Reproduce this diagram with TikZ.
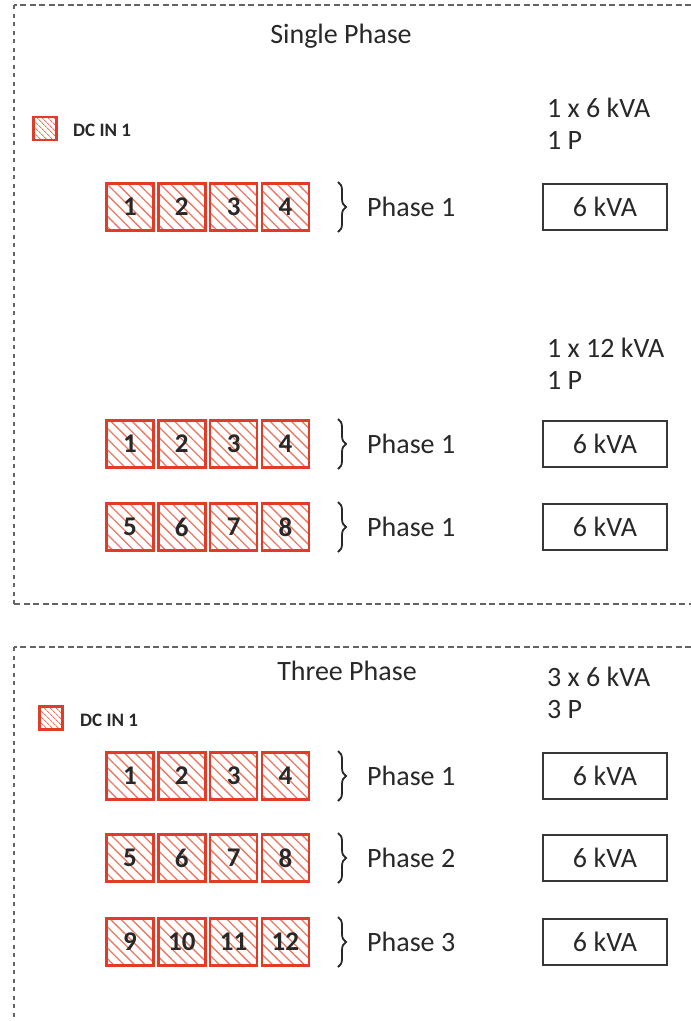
\documentclass[tikz,border=0pt]{standalone}
\usepackage{fontspec}
\setmainfont{Carlito}
\usetikzlibrary{patterns.meta,decorations.pathreplacing}

\definecolor{cellred}{RGB}{226,60,40}
\definecolor{hatchred}{RGB}{236,120,98}
\definecolor{framegray}{RGB}{100,100,100}
\definecolor{ink}{RGB}{40,40,40}
\definecolor{boxgray}{RGB}{55,55,55}

\tikzset{
  cell/.style={draw=cellred, line width=2.7pt, minimum size=47pt, inner sep=0pt,
    pattern={Lines[angle=-45,distance=7.5pt,line width=1.3pt]}, pattern color=hatchred,
    font=\fontsize{27}{27}\selectfont\bfseries, text=ink},
  legendcell/.style={draw=cellred, line width=2.7pt, minimum size=23pt, inner sep=0pt,
    pattern={Lines[angle=-45,distance=4pt,line width=1pt]}, pattern color=hatchred},
  legendtext/.style={anchor=west, inner sep=0pt, text=ink,
    font=\fontsize{19}{19}\selectfont\bfseries},
  lbl/.style={inner sep=0pt, text=ink, font=\fontsize{28}{30}\selectfont},
  kva/.style={draw=boxgray, line width=1.6pt, minimum width=124.4pt, minimum height=46.4pt,
    inner sep=0pt, text=ink, font=\fontsize{28}{30}\selectfont},
  phasebrace/.style={draw=ink, line width=1.8pt, decorate,
    decoration={brace, amplitude=8pt, aspect=0.5}},
  hframe/.style={draw=framegray, line width=2pt, dash pattern=on 6pt off 3.5pt},
  vframe/.style={draw=framegray, line width=2pt, dash pattern=on 4pt off 4.5pt},
}

% one row of four inputs, its brace, phase label and rating box
\newcommand{\phaserow}[4]{%
  \foreach \i in {0,...,3}{%
    \pgfmathtruncatemacro{\n}{#3+\i}%
    \node[cell] (#1\i) at ({130+51.8*\i},#2) {\n};
  }
  \coordinate (#1t) at (338,#2-25);
  \coordinate (#1b) at (338,#2+25);
  \draw[phasebrace] (#1t) -- (#1b);
  \node[lbl, anchor=west] (#1p) at (367,#2) {#4};
  \node[kva] (#1k) at (605,#2) {6 kVA};
}

\begin{document}
\begin{tikzpicture}[x=1pt,y=-1pt]
  \useasboundingbox (0,0) rectangle (691,1021);

  % ---- single phase panel ----
  \draw[hframe] (691,5) -- (14,5);
  \draw[vframe] (14,5) -- (14,604);
  \draw[hframe] (14,604) -- (691,604);

  \node[lbl, anchor=base] (single) at (341,43) {Single Phase};

  \node[legendcell] (leg1) at (45,128.5) {};
  \node[legendtext] (leg1t) at (73,130) {DC IN 1};

  \node[lbl, anchor=west] (r1a) at (547,108) {1 x 6 kVA};
  \node[lbl, anchor=west] (r1b) at (547,140) {1 P};
  \phaserow{a}{207}{1}{Phase 1}

  \node[lbl, anchor=west] (r2a) at (547,348) {1 x 12 kVA};
  \node[lbl, anchor=west] (r2b) at (547,380) {1 P};
  \phaserow{b}{444}{1}{Phase 1}
  \phaserow{c}{527}{5}{Phase 1}

  % ---- three phase panel ----
  \draw[hframe] (691,647) -- (14,647);
  \draw[vframe] (14,647) -- (14,1021);

  \node[lbl, anchor=base] (three) at (347,680) {Three Phase};

  \node[legendcell] (leg2) at (51,718) {};
  \node[legendtext] (leg2t) at (80,720) {DC IN 1};

  \node[lbl, anchor=west] (r3a) at (547,677) {3 x 6 kVA};
  \node[lbl, anchor=west] (r3b) at (547,710) {3 P};
  \phaserow{d}{776}{1}{Phase 1}
  \phaserow{e}{858}{5}{Phase 2}
  \phaserow{f}{942}{9}{Phase 3}
\end{tikzpicture}
\end{document}
